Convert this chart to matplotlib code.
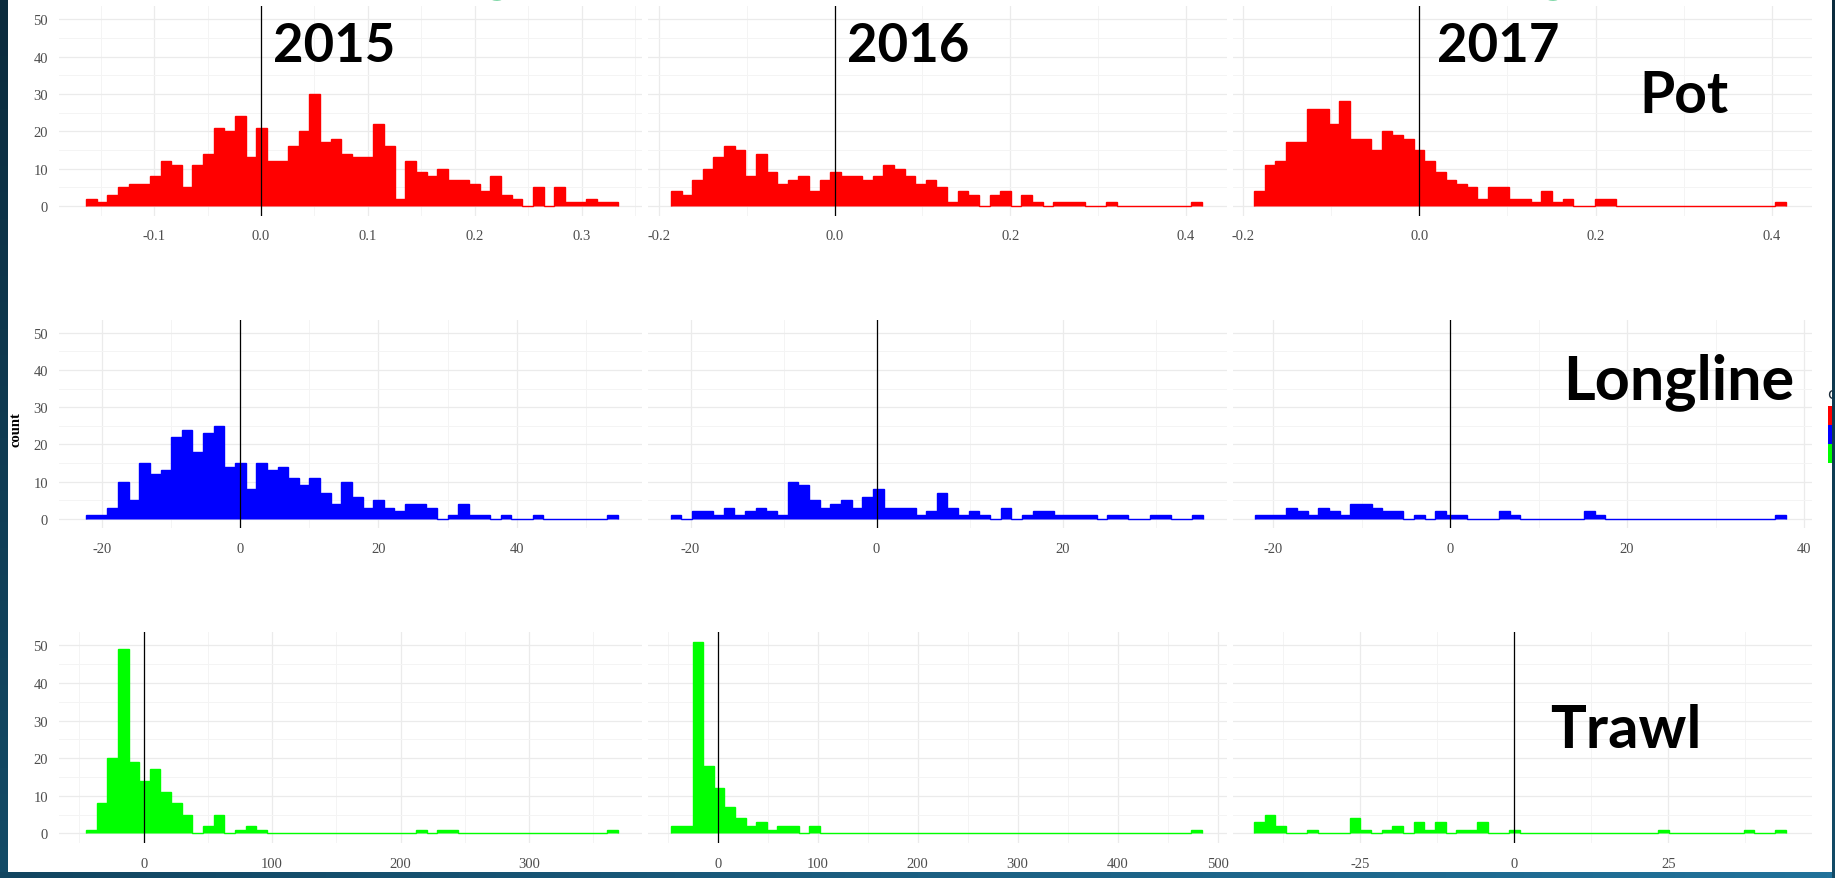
import numpy as np
import matplotlib.pyplot as plt
from matplotlib.ticker import MultipleLocator, FormatStrFormatter
from matplotlib.colors import LinearSegmentedColormap
from matplotlib.patches import Rectangle

plt.rcParams['axes.unicode_minus'] = False

W, H = 1835, 879

gears = ['Pot', 'Longline', 'Trawl']
years = ['2015', '2016', '2017']
gear_colors = ['#ff0000', '#0000ff', '#00ff00']

# counts per bin (50 bins per panel, free x scale)
pot_2015 = [2, 1, 3, 5, 6, 6, 8, 12, 11, 5, 11, 14, 21, 20, 24, 13, 21, 12, 12, 16,
            20, 30, 17, 18, 14, 13, 13, 22, 16, 2, 12, 9, 8, 10, 7, 7, 6, 4, 8, 3,
            2, 0, 5, 0, 5, 1, 1, 2, 1, 1]
pot_2016 = [4, 3, 7, 10, 13, 16, 15, 8, 14, 9, 6, 7, 8, 4, 7, 9, 8, 8, 7, 8,
            11, 10, 8, 6, 7, 5, 1, 4, 3, 0, 3, 4, 0, 3, 1, 0, 1, 1, 1, 0,
            0, 1, 0, 0, 0, 0, 0, 0, 0, 1]
pot_2017 = [4, 11, 12, 17, 17, 26, 26, 22, 28, 18, 18, 15, 20, 19, 18, 15, 12, 9, 7, 6,
            5, 2, 5, 5, 2, 2, 1, 4, 1, 2, 0, 0, 2, 2, 0, 0, 0, 0, 0, 0,
            0, 0, 0, 0, 0, 0, 0, 0, 0, 1]
longline_2015 = [1, 1, 3, 10, 5, 15, 12, 13, 22, 24, 18, 23, 25, 14, 15, 8, 15, 13, 14, 11,
                 9, 11, 7, 4, 10, 6, 3, 5, 3, 2, 4, 4, 3, 0, 1, 4, 1, 1, 0, 1,
                 0, 0, 1, 0, 0, 0, 0, 0, 0, 1]
longline_2016 = [1, 0, 2, 2, 1, 3, 1, 2, 3, 2, 1, 10, 9, 5, 3, 4, 5, 3, 6, 8,
                 3, 3, 3, 1, 2, 7, 3, 1, 2, 1, 0, 3, 0, 1, 2, 2, 1, 1, 1, 1,
                 0, 1, 1, 0, 0, 1, 1, 0, 0, 1]
longline_2017 = [1, 1, 1, 3, 2, 1, 3, 2, 1, 4, 4, 3, 2, 2, 0, 1, 0, 2, 1, 1,
                 0, 0, 0, 2, 1, 0, 0, 0, 0, 0, 0, 2, 1, 0, 0, 0, 0, 0, 0, 0,
                 0, 0, 0, 0, 0, 0, 0, 0, 0, 1]
trawl_2015 = [1, 8, 20, 49, 19, 14, 17, 11, 8, 5, 0, 2, 5, 0, 1, 2, 1, 0, 0, 0,
              0, 0, 0, 0, 0, 0, 0, 0, 0, 0, 0, 1, 0, 1, 1, 0, 0, 0, 0, 0,
              0, 0, 0, 0, 0, 0, 0, 0, 0, 1]
trawl_2016 = [2, 2, 51, 18, 12, 7, 4, 2, 3, 1, 2, 2, 0, 2, 0, 0, 0, 0, 0, 0,
              0, 0, 0, 0, 0, 0, 0, 0, 0, 0, 0, 0, 0, 0, 0, 0, 0, 0, 0, 0,
              0, 0, 0, 0, 0, 0, 0, 0, 0, 1]
trawl_2017 = [3, 5, 2, 0, 0, 1, 0, 0, 0, 4, 1, 0, 1, 2, 0, 3, 1, 3, 0, 1,
              1, 3, 0, 0, 1, 0, 0, 0, 0, 0, 0, 0, 0, 0, 0, 0, 0, 0, 1, 0,
              0, 0, 0, 0, 0, 0, 1, 0, 0, 1]

# outer edges of the binned range in each panel
pot_ranges = [(-0.1637, 0.334), (-0.1864, 0.4186), (-0.188, 0.4165)]
longline_ranges = [(-22.25, 54.6), (-22.15, 35.1), (-22.08, 37.97)]
trawl_ranges = [(-44.9, 369.3), (-46.4, 484.4), (-42.2, 44.1)]

counts = [[pot_2015, pot_2016, pot_2017],
          [longline_2015, longline_2016, longline_2017],
          [trawl_2015, trawl_2016, trawl_2017]]
ranges = [pot_ranges, longline_ranges, trawl_ranges]

# axis limits and tick spacing per panel
xlims = [[(-0.189, 0.3564), (-0.2126, 0.4471), (-0.2119, 0.446)],
         [(-26.16, 58.09), (-24.58, 37.68), (-24.52, 40.9)],
         [(-65.9, 387.9), (-69.7, 509.4), (-45.6, 48.3)]]
major_step = [[0.1, 0.2, 0.2], [20, 20, 20], [100, 100, 25]]

# panel boxes in pixels
col_px = [(59, 642), (648, 1227), (1233, 1812)]
row_px = [(7, 216.5), (320.7, 529.3), (633, 844)]

fig = plt.figure(figsize=(W / 100, H / 100), dpi=100, facecolor='white')

for r in range(3):
    for c in range(3):
        x0, x1 = col_px[c]
        y0, y1 = row_px[r]
        ax = fig.add_axes([x0 / W, 1 - y1 / H, (x1 - x0) / W, (y1 - y0) / H])
        vals = counts[r][c]
        lo, hi = ranges[r][c]
        edges = np.linspace(lo, hi, len(vals) + 1)
        ax.stairs(vals, edges, fill=True, facecolor=gear_colors[r],
                  edgecolor=gear_colors[r], linewidth=1.0, zorder=2)
        ax.axvline(0, color='black', lw=0.9, zorder=3)
        ax.set_xlim(*xlims[r][c])
        ax.set_ylim(-2.55, 53.55)
        ax.xaxis.set_major_locator(MultipleLocator(major_step[r][c]))
        ax.xaxis.set_minor_locator(MultipleLocator(major_step[r][c] / 2))
        ax.yaxis.set_major_locator(MultipleLocator(10))
        ax.yaxis.set_minor_locator(MultipleLocator(5))
        ax.xaxis.set_major_formatter(FormatStrFormatter('%.1f' if r == 0 else '%g'))
        ax.grid(which='major', color='#ebebeb', lw=0.9)
        ax.grid(which='minor', color='#f4f4f4', lw=0.7)
        ax.set_axisbelow(True)
        for s in ax.spines.values():
            s.set_visible(False)
        ax.tick_params(which='both', length=0)
        ax.tick_params(axis='x', pad=10, labelsize=10.5, labelcolor='#4d4d4d')
        ax.tick_params(axis='y', pad=8, labelsize=10.5, labelcolor='#4d4d4d')
        for lab in ax.get_xticklabels() + ax.get_yticklabels():
            lab.set_fontfamily('Liberation Serif')
        if c > 0:
            ax.set_yticklabels([])

fig.text(16 / W, 1 - 430 / H, 'count', rotation=90, ha='center', va='center',
         fontsize=10.5, fontweight='bold', family='Liberation Serif', color='black')

# overlay labels
year_x = [273, 847, 1437]
for yr, xp in zip(years, year_x):
    fig.text(xp / W, 1 - 62 / H, yr, ha='left', va='baseline', fontsize=38,
             fontweight='bold', family='Lato', color='black')

gear_pos = [(1639, 113, 41), (1563, 399, 44), (1550, 748, 43)]
for g, (xp, yp, fs) in zip(gears, gear_pos):
    fig.text(xp / W, 1 - yp / H, g, ha='left', va='baseline', fontsize=fs,
             fontweight='bold', family='Lato', color='black')

# green heading, cut off at the top of the slide
for ch, xp in [('y', 366), ('g', 497), ('y', 820), ('y', 1427), ('g', 1553), ('y', 1702)]:
    fig.text(xp / W, 1 + 9.5 / H, ch, ha='center', va='baseline', fontsize=40,
             fontweight='bold', family='Lato', color='#00b050')

# legend peeking in at the right edge
fig.text(1827 / W, 1 - 399 / H, 'c', ha='left', va='baseline', fontsize=11,
         color='#1f2d3a', family='DejaVu Sans')
for i, col in enumerate(gear_colors):
    fig.patches.append(Rectangle((1828 / W, 1 - (426 + 19 * i) / H), 12 / W, 19 / H,
                                 transform=fig.transFigure, facecolor=col,
                                 edgecolor='none', zorder=4))

# slide border
left_cmap = LinearSegmentedColormap.from_list('l', ['#0b2b3d', '#134b67'])
bot_cmap = LinearSegmentedColormap.from_list('b', ['#114560', '#1b5f82', '#21729a'])
bl = fig.add_axes([0, 0, 7 / W, 1], zorder=10)
bl.imshow(np.linspace(0, 1, 200)[:, None], cmap=left_cmap, aspect='auto')
bl.axis('off')
bb = fig.add_axes([0, 0, 1, 6 / H], zorder=10)
bb.imshow(np.linspace(0, 1, 400)[None, :], cmap=bot_cmap, aspect='auto')
bb.axis('off')
br = fig.add_axes([1832 / W, 0, 3 / W, 1], zorder=10)
br.imshow(np.linspace(0, 1, 200)[:, None], cmap=left_cmap, aspect='auto')
br.axis('off')

fig.savefig('out.png', dpi=100, facecolor='white')
